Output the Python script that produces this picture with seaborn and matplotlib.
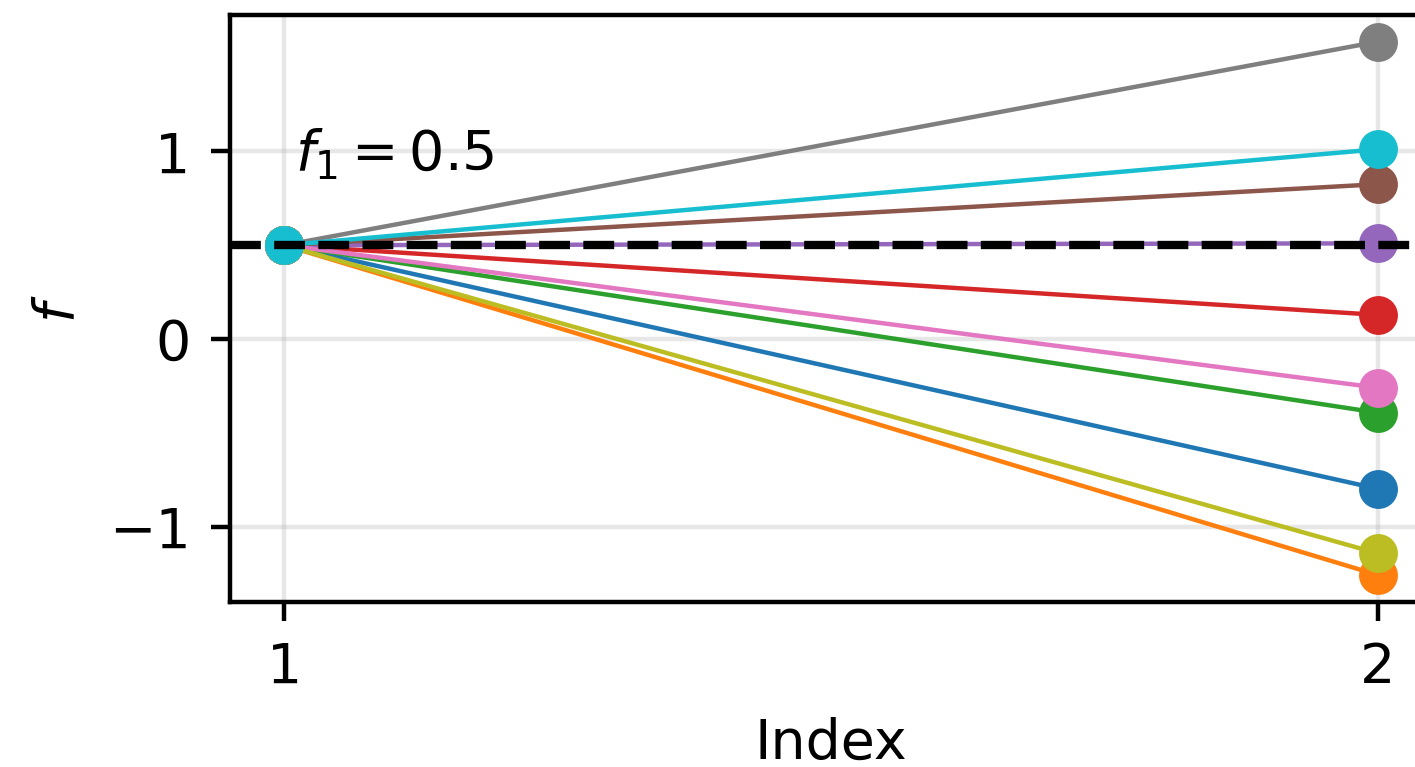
import numpy as np
import pandas as pd
import matplotlib
matplotlib.use("Agg")
import matplotlib.pyplot as plt
import seaborn as sns

# --- data ---
index = [1, 2]
f_1 = 0.5
series = ["s0", "s1", "s2", "s3", "s4", "s5", "s6", "s7", "s8", "s9"]
f_2 = [-0.797, -1.256, -0.392, 0.129, 0.51, 0.825, -0.259, 1.584, -1.141, 1.011]

rows = []
for name, end in zip(series, f_2):
    rows.append({"Index": index[0], "f": f_1, "series": name})
    rows.append({"Index": index[1], "f": end, "series": name})
df = pd.DataFrame(rows)

dpi = 400
fig = plt.figure(figsize=(1415 / dpi, 767 / dpi), dpi=dpi)
ax = fig.add_axes([0.1622, 0.2155, 0.8503, 0.765])

sns.lineplot(
    data=df, x="Index", y="f", hue="series", hue_order=series,
    palette="tab10", marker="o", markersize=7, markeredgewidth=0,
    linewidth=0.8, legend=False, ax=ax, zorder=2
)
ax.axhline(f_1, color="black", linestyle="--", linewidth=1.5)
ax.text(1.01, 0.9, r"$f_1 = 0.5$", fontsize=10, va="baseline", ha="left")

ax.set_xticks(index)
ax.set_yticks([-1, 0, 1])
ax.set_xlabel("Index")
ax.set_ylabel(r"$f$")
ax.grid(alpha=0.3)
ax.set_axisbelow(True)

fig.savefig("out.png", dpi=dpi)
